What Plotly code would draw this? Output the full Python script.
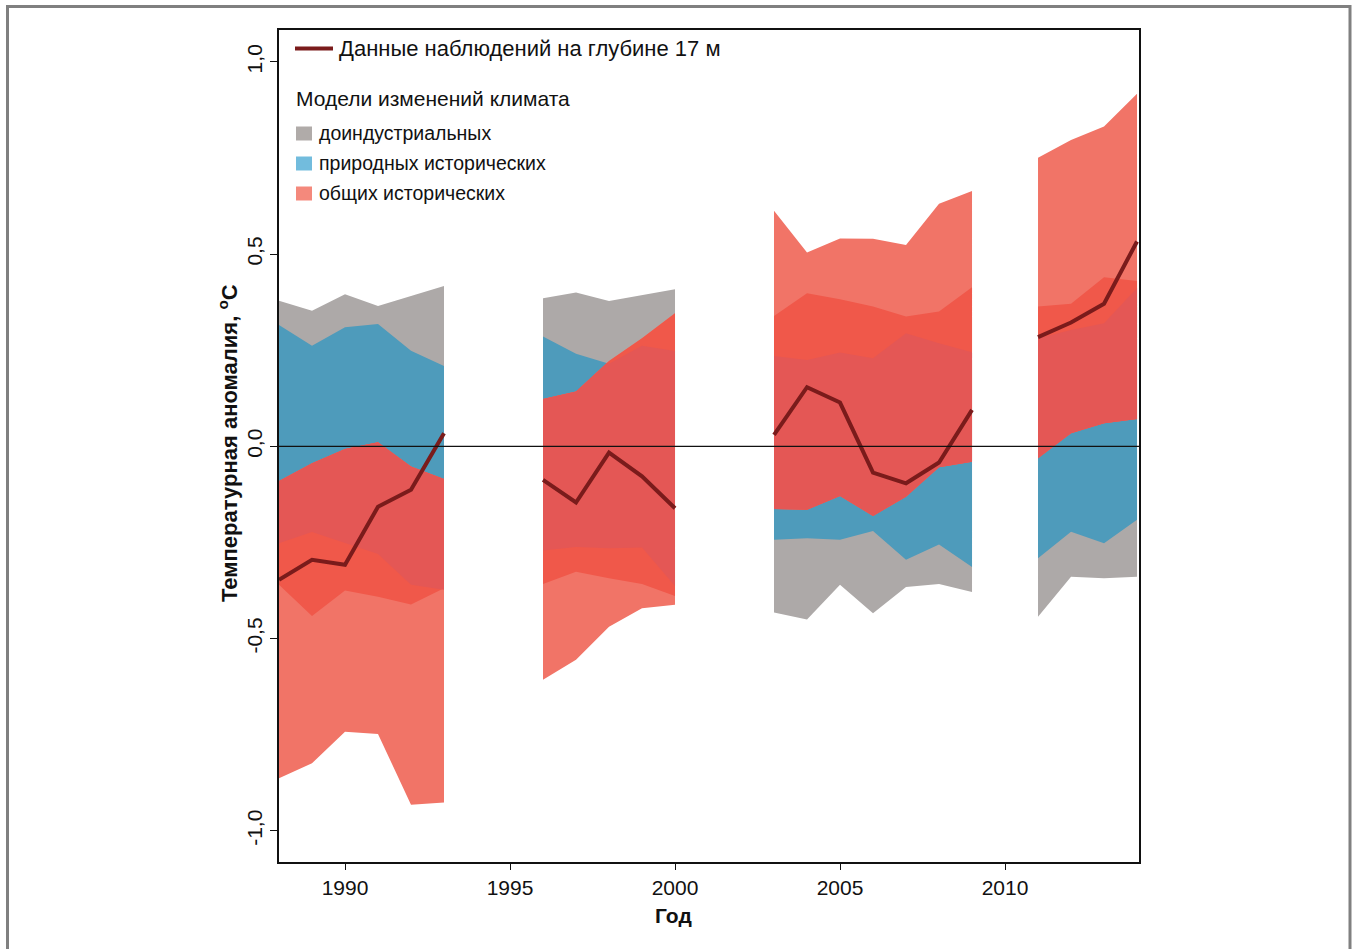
import plotly.graph_objects as go

# ---- data: model ranges per year (°C anomaly) and observations at 17 m ----
years_a = [1988, 1989, 1990, 1991, 1992, 1993]
years_b = [1996, 1997, 1998, 1999, 2000]
years_c = [2003, 2004, 2005, 2006, 2007, 2008, 2009]
years_d = [2011, 2012, 2013, 2014]

# pre-industrial control runs
pre_hi_a = [0.379, 0.353, 0.396, 0.365, 0.391, 0.417]
pre_lo_a = [-0.360, -0.441, -0.375, -0.391, -0.411, -0.369]
pre_hi_b = [0.385, 0.400, 0.378, 0.394, 0.409]
pre_lo_b = [-0.358, -0.326, -0.343, -0.358, -0.389]
pre_hi_c = [0.339, 0.398, 0.383, 0.364, 0.338, 0.351, 0.414]
pre_lo_c = [-0.432, -0.450, -0.360, -0.434, -0.366, -0.358, -0.379]
pre_hi_d = [0.364, 0.371, 0.440, 0.430]
pre_lo_d = [-0.443, -0.339, -0.343, -0.339]

# natural-forcing historical runs
nat_hi_a = [0.316, 0.262, 0.310, 0.318, 0.249, 0.209]
nat_lo_a = [-0.252, -0.223, -0.251, -0.280, -0.360, -0.373]
nat_hi_b = [0.286, 0.241, 0.215, 0.262, 0.248]
nat_lo_b = [-0.271, -0.262, -0.265, -0.263, -0.363]
nat_hi_c = [0.235, 0.225, 0.244, 0.229, 0.294, 0.268, 0.245]
nat_lo_c = [-0.243, -0.239, -0.243, -0.220, -0.295, -0.255, -0.314]
nat_hi_d = [0.281, 0.303, 0.320, 0.412]
nat_lo_d = [-0.291, -0.222, -0.252, -0.191]

# all-forcing historical runs
all_hi_a = [-0.090, -0.044, -0.007, 0.011, -0.052, -0.085]
all_lo_a = [-0.863, -0.824, -0.742, -0.748, -0.932, -0.926]
all_hi_b = [0.123, 0.143, 0.222, 0.281, 0.346]
all_lo_b = [-0.607, -0.555, -0.469, -0.421, -0.412]
all_hi_c = [0.613, 0.504, 0.541, 0.540, 0.524, 0.631, 0.664]
all_lo_c = [-0.163, -0.165, -0.129, -0.181, -0.131, -0.054, -0.040]
all_hi_d = [0.751, 0.797, 0.832, 0.917]
all_lo_d = [-0.031, 0.034, 0.060, 0.071]

# observations at 17 m depth
obs_a = [-0.347, -0.295, -0.308, -0.157, -0.113, 0.034]
obs_b = [-0.087, -0.146, -0.016, -0.078, -0.161]
obs_c = [0.030, 0.154, 0.114, -0.068, -0.096, -0.042, 0.095]
obs_d = [0.284, 0.322, 0.371, 0.533]

x_ticks = [1990, 1995, 2000, 2005, 2010]
y_ticks = [-1.0, -0.5, 0.0, 0.5, 1.0]
y_tick_text = ["-1,0", "-0,5", "0,0", "0,5", "1,0"]

C_PRE = "#ADA9A8"
C_NAT = "#4E9BBB"
C_ALL = "#F17467"
C_ALL_PRE = "#F0584A"
C_ALL_NAT = "#E45755"
C_OBS = "#7A1B1B"
FONT = "Liberation Sans, Arial, sans-serif"

groups = [
    (years_a, pre_lo_a, pre_hi_a, nat_lo_a, nat_hi_a, all_lo_a, all_hi_a, obs_a),
    (years_b, pre_lo_b, pre_hi_b, nat_lo_b, nat_hi_b, all_lo_b, all_hi_b, obs_b),
    (years_c, pre_lo_c, pre_hi_c, nat_lo_c, nat_hi_c, all_lo_c, all_hi_c, obs_c),
    (years_d, pre_lo_d, pre_hi_d, nat_lo_d, nat_hi_d, all_lo_d, all_hi_d, obs_d),
]


def envelope(x, f, g, pick):
    """Pointwise max/min of two polylines on the same x grid, with crossings."""
    xs, ys = [], []
    for i in range(len(x)):
        xs.append(x[i])
        ys.append(pick(f[i], g[i]))
        if i + 1 < len(x):
            d0 = f[i] - g[i]
            d1 = f[i + 1] - g[i + 1]
            if d0 * d1 < 0:
                t = d0 / (d0 - d1)
                xs.append(x[i] + t * (x[i + 1] - x[i]))
                ys.append(f[i] + t * (f[i + 1] - f[i]))
    return xs, ys


def band(x, lo, hi, color):
    return go.Scatter(
        x=list(x) + list(x)[::-1], y=list(hi) + list(lo)[::-1],
        fill="toself", fillcolor=color, mode="lines",
        line=dict(width=0, color=color), hoverinfo="skip", showlegend=False,
    )


def overlap(x, lo1, hi1, lo2, hi2, color):
    ux, uy = envelope(x, hi1, hi2, min)
    lx, ly = envelope(x, lo1, lo2, max)
    return go.Scatter(
        x=ux + lx[::-1], y=uy + ly[::-1],
        fill="toself", fillcolor=color, mode="lines",
        line=dict(width=0, color=color), hoverinfo="skip", showlegend=False,
    )


fig = go.Figure()
for yrs, plo, phi, nlo, nhi, alo, ahi, _ in groups:
    fig.add_trace(band(yrs, plo, phi, C_PRE))
    fig.add_trace(band(yrs, nlo, nhi, C_NAT))
    fig.add_trace(band(yrs, alo, ahi, C_ALL))
    fig.add_trace(overlap(yrs, alo, ahi, plo, phi, C_ALL_PRE))
    fig.add_trace(overlap(yrs, alo, ahi, nlo, nhi, C_ALL_NAT))

# observed series, broken between periods
obs_x, obs_y = [], []
for yrs, *_, obs in groups:
    obs_x += list(yrs) + [None]
    obs_y += list(obs) + [None]
fig.add_trace(go.Scatter(x=obs_x, y=obs_y, mode="lines",
                         line=dict(color=C_OBS, width=4), connectgaps=False,
                         hoverinfo="skip", showlegend=False))

# page geometry (pixels)
W, H = 1356, 949
L, R, T, B = 279, 1139, 30, 862


def px(xp):
    return (xp - L) / (R - L)


def py(yp):
    return (B - yp) / (B - T)


shapes = [
    # zero reference line
    dict(type="line", xref="paper", yref="y", x0=0, x1=1, y0=0, y1=0,
         line=dict(color="#111111", width=1.2), layer="above"),
    # outer frame of the figure
    dict(type="rect", xref="paper", yref="paper",
         x0=px(7.5), x1=px(1350), y0=py(6.5), y1=py(970),
         line=dict(color="#808080", width=3), fillcolor="rgba(0,0,0,0)"),
    # legend: observation line sample
    dict(type="line", xref="paper", yref="paper",
         x0=px(295), x1=px(333), y0=py(48.5), y1=py(48.5),
         line=dict(color=C_OBS, width=4)),
]

swatches = [("доиндустриальных", "#B0ABA9", 133.5),
            ("природных исторических", "#72BCDD", 163.5),
            ("общих исторических", "#F4897C", 193.5)]

annotations = [
    dict(text="Данные наблюдений на глубине 17 м", xref="paper", yref="paper",
         x=px(337), y=py(49), xanchor="left", yanchor="middle", showarrow=False,
         font=dict(family=FONT, size=22, color="#111111")),
    dict(text="Модели изменений климата", xref="paper", yref="paper",
         x=px(294), y=py(98.5), xanchor="left", yanchor="middle", showarrow=False,
         font=dict(family=FONT, size=21, color="#111111")),
    # axis titles
    dict(text="<b>Год</b>", xref="paper", yref="paper",
         x=px(673), y=py(915), xanchor="center", yanchor="middle", showarrow=False,
         font=dict(family=FONT, size=21, color="#111111")),
    dict(text="<b>Температурная аномалия, <sup>o</sup>С</b>", xref="paper", yref="paper",
         x=px(228), y=py(443), xanchor="center", yanchor="middle", showarrow=False,
         textangle=-90, font=dict(family=FONT, size=22, color="#111111")),
]
for label, col, yc in swatches:
    shapes.append(dict(type="rect", xref="paper", yref="paper",
                       x0=px(296), x1=px(312), y0=py(yc - 7), y1=py(yc + 7),
                       fillcolor=col, line=dict(width=0)))
    annotations.append(dict(text=label, xref="paper", yref="paper",
                            x=px(317), y=py(yc - 1), xanchor="left", yanchor="middle",
                            showarrow=False,
                            font=dict(family=FONT, size=19.5, color="#111111")))

fig.update_layout(
    width=W, height=H,
    margin=dict(l=L, r=W - R, t=T, b=H - B, pad=0),
    paper_bgcolor="white", plot_bgcolor="white",
    font=dict(family=FONT, color="#111111"),
    shapes=shapes, annotations=annotations,
    showlegend=False,
)
fig.update_xaxes(
    range=[1988, 2014.06], tickvals=x_ticks, ticks="outside", ticklen=6,
    tickwidth=1, tickcolor="#111111", showgrid=False, zeroline=False,
    showline=True, mirror=True, linecolor="#111111", linewidth=1.5,
    tickfont=dict(family=FONT, size=21, color="#111111"),
)
fig.update_yaxes(
    range=[-1.081, 1.083], tickvals=y_ticks, ticktext=y_tick_text, tickangle=-90,
    ticks="outside", ticklen=7, tickwidth=1, tickcolor="#111111",
    showgrid=False, zeroline=False,
    showline=True, mirror=True, linecolor="#111111", linewidth=1.5,
    tickfont=dict(family=FONT, size=21, color="#111111"),
)

fig.write_html("out.html")
